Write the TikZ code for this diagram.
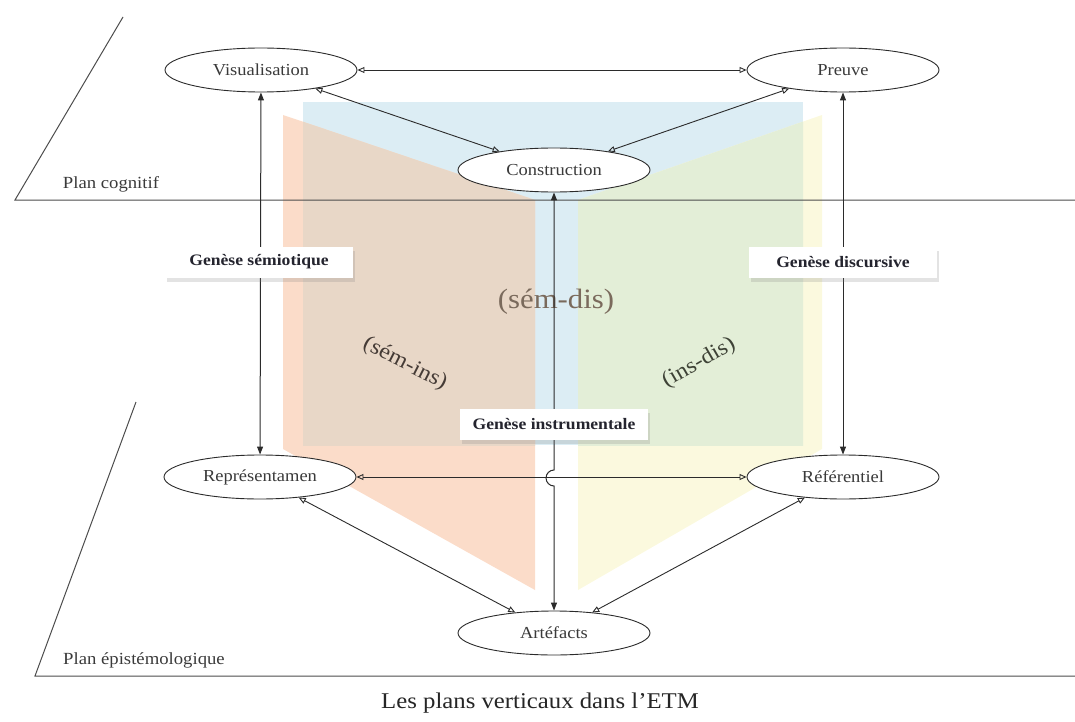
\documentclass[tikz,border=0pt]{standalone}
\usepackage{fontspec}
\setmainfont{Liberation Serif}[FakeStretch=1.1]
\usetikzlibrary{arrows.meta,shapes.geometric,shadows}
\definecolor{bleu}{HTML}{DCEDF4}
\definecolor{peche}{HTML}{FBDCC9}
\definecolor{brun}{HTML}{E8D7C7}
\definecolor{jaune}{HTML}{FBF9DE}
\definecolor{vert}{HTML}{E3EED7}
\definecolor{trait}{HTML}{2B2B2B}
\definecolor{texte}{HTML}{3A3A3A}
\definecolor{etiq}{HTML}{24242E}
\definecolor{semdiscol}{HTML}{7A6A5C}
\definecolor{seminscol}{HTML}{453B36}
\definecolor{insdiscol}{HTML}{3E4236}

\begin{document}
\begin{tikzpicture}[x=1pt,y=-1pt,
  pole/.style={draw=trait,line width=0.9pt,ellipse,fill=white,minimum width=192pt,
    minimum height=44pt,inner sep=0pt,text=texte,font=\fontsize{16.8}{19}\selectfont},
  genese/.style={fill=white,minimum width=188pt,minimum height=31pt,inner sep=0pt,
    text=etiq,font=\bfseries\fontsize{16}{18}\selectfont,
    drop shadow={opacity=0.22,shadow xshift=1.5pt,shadow yshift=-4pt}},
  lien/.style={draw=trait,line width=0.9pt,
    arrows={Triangle[open,length=7pt,width=6pt]-Triangle[open,length=7pt,width=6pt]}},
  genfl/.style={draw=trait,line width=1pt,
    arrows={Triangle[length=8pt,width=6pt]-Triangle[length=8pt,width=6pt]}},
  plan/.style={draw=black!70,line width=1pt},
  nomplan/.style={text=texte,font=\fontsize{17}{19}\selectfont}]
\useasboundingbox (0,0) rectangle (1075,722);
\fill[bleu] (303,102) rectangle (803,445);
\fill[peche] (283,115) -- (535,200) -- (535,590) -- (283,449) -- cycle;
\fill[jaune] (822,115) -- (578,200) -- (578,590) -- (822,449) -- cycle;
\begin{scope}
\clip (303,102) rectangle (803,445);
\fill[brun] (283,115) -- (535,200) -- (535,590) -- (283,449) -- cycle;
\fill[vert] (822,115) -- (578,200) -- (578,590) -- (822,449) -- cycle;
\end{scope}
\node[text=semdiscol,font=\fontsize{28}{30}\selectfont] (semdis) at (556,302) {(sém-dis)};
\node[rotate=-27,text=seminscol,font=\fontsize{22}{24}\selectfont] (semins) at (405,364) {(sém-ins)};
\node[rotate=30,text=insdiscol,font=\fontsize{22}{24}\selectfont] (insdis) at (699,363) {(ins-dis)};

\draw[plan] (123,17) -- (15,200) -- (1075,200);
\draw[plan] (136,402) -- (35,676) -- (1075,676);
\node[nomplan] (cognitif) at (111,184) {Plan cognitif};
\node[nomplan] (episte) at (144,660) {Plan épistémologique};

\node[pole] (visu) at (261,70) {Visualisation};
\node[pole] (preuve) at (843,70) {Preuve};
\node[pole] (constr) at (554,170) {Construction};
\node[pole] (repres) at (260,477) {Représentamen};
\node[pole] (refer) at (843,477) {Référentiel};
\node[pole] (artef) at (554,633) {Artéfacts};

\draw[lien] (visu) -- (preuve);
\draw[lien] (visu) -- (constr);
\draw[lien] (constr) -- (preuve);
\draw[lien] (repres) -- (refer);
\draw[lien] (repres) -- (artef);
\draw[lien] (artef) -- (refer);
\draw[genfl] (visu) -- (repres);
\draw[genfl] (preuve) -- (refer);
\draw[genfl] (artef) -- (554,486) arc[start angle=90,end angle=270,radius=8] -- (constr);

\node[genese] (gsem) at (259,262) {Genèse sémiotique};
\node[genese] (gdis) at (843,262) {Genèse discursive};
\node[genese] (gins) at (554,424) {Genèse instrumentale};

\node[text=black!85,font=\fontsize{22.5}{25}\selectfont] (titre) at (540,703) {Les plans verticaux dans l'ETM};
\end{tikzpicture}
\end{document}
